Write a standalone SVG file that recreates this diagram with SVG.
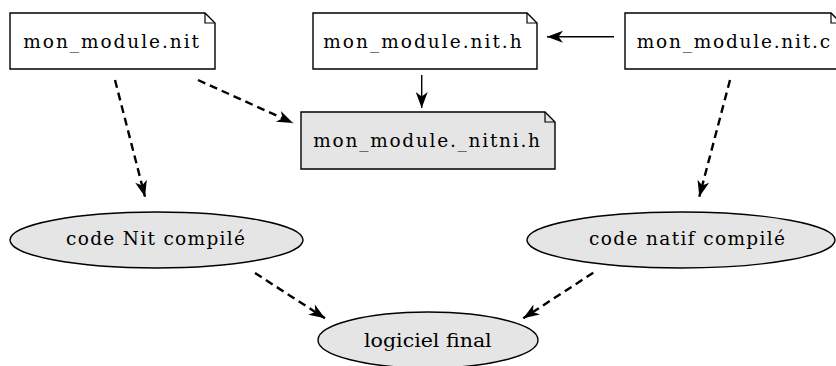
<svg xmlns="http://www.w3.org/2000/svg" width="836" height="366" viewBox="0 0 836 366">
  <style>
    .note { fill: #ffffff; stroke: #000000; stroke-width: 1.4; }
    .note.gen { fill: #e5e5e5; }
    .fold { fill: none; stroke: #000000; stroke-width: 1.2; }
    .oval { fill: #e5e5e5; stroke: #000000; stroke-width: 1.4; }
    .lbl { font-family: "DejaVu Serif", serif; font-size: 18.5px; fill: #000000; }
    .dep { fill: none; stroke: #000000; stroke-width: 1.4; }
    .gen-edge { fill: none; stroke: #000000; stroke-width: 2.4; stroke-dasharray: 8 5; }
  </style>
  <defs>
    <marker id="vee" viewBox="-1 -7 18 14" refX="16" refY="0" markerWidth="18" markerHeight="14" orient="auto" markerUnits="userSpaceOnUse">
      <path d="M0,-6 L16,0 L0,6 L4.5,0 Z" fill="#000000"/>
    </marker>
  </defs>

  <!-- source files -->
  <g id="mon_module_nit">
    <path class="note" d="M10,13 H205 L215,23 V69 H10 Z"/>
    <path class="fold" d="M205,13 V23 H215"/>
    <text class="lbl" x="23.3" y="47.7" textLength="175.7" lengthAdjust="spacing">mon_module.nit</text>
  </g>
  <g id="mon_module_nit_h">
    <path class="note" d="M313,13 H527 L537,23 V69 H313 Z"/>
    <path class="fold" d="M527,13 V23 H537"/>
    <text class="lbl" x="323.3" y="47.7" textLength="198.4" lengthAdjust="spacing">mon_module.nit.h</text>
  </g>
  <g id="mon_module_nit_c">
    <path class="note" d="M625,13 H831 L841,23 V69 H625 Z"/>
    <path class="fold" d="M831,13 V23 H841"/>
    <text class="lbl" x="636.7" y="47.7" textLength="193.3" lengthAdjust="spacing">mon_module.nit.c</text>
  </g>

  <!-- generated header -->
  <g id="mon_module_nitni_h">
    <path class="note gen" d="M301,112 H545 L555,122 V169 H301 Z"/>
    <path class="fold" d="M545,112 V122 H555"/>
    <text class="lbl" x="313.3" y="147.3" textLength="226.7" lengthAdjust="spacing">mon_module._nitni.h</text>
  </g>

  <!-- compiled outputs -->
  <g id="code_nit">
    <ellipse class="oval" cx="156.5" cy="240" rx="146.5" ry="28"/>
    <text class="lbl" x="66" y="245" textLength="179" lengthAdjust="spacing">code Nit compilé</text>
  </g>
  <g id="code_natif">
    <ellipse class="oval" cx="681" cy="240" rx="154" ry="28"/>
    <text class="lbl" x="589" y="245" textLength="196" lengthAdjust="spacing">code natif compilé</text>
  </g>
  <g id="logiciel_final">
    <ellipse class="oval" cx="428" cy="340" rx="110" ry="28"/>
    <text class="lbl" x="364" y="346.7" textLength="127.7" lengthAdjust="spacingAndGlyphs">logiciel final</text>
  </g>

  <!-- connectors -->
  <g id="edges">
    <path class="dep" d="M614,36.7 H547" marker-end="url(#vee)"/>
    <path class="dep" d="M421.7,75 V108" marker-end="url(#vee)"/>
    <path class="gen-edge" d="M198,80 L293,123" marker-end="url(#vee)"/>
    <path class="gen-edge" d="M115,80 L145,196.7" marker-end="url(#vee)"/>
    <path class="gen-edge" d="M730,80 L699.3,196.7" marker-end="url(#vee)"/>
    <path class="gen-edge" d="M255,273 L325,318.3" marker-end="url(#vee)"/>
    <path class="gen-edge" d="M593.3,272.7 L523.3,318.3" marker-end="url(#vee)"/>
  </g>
</svg>
